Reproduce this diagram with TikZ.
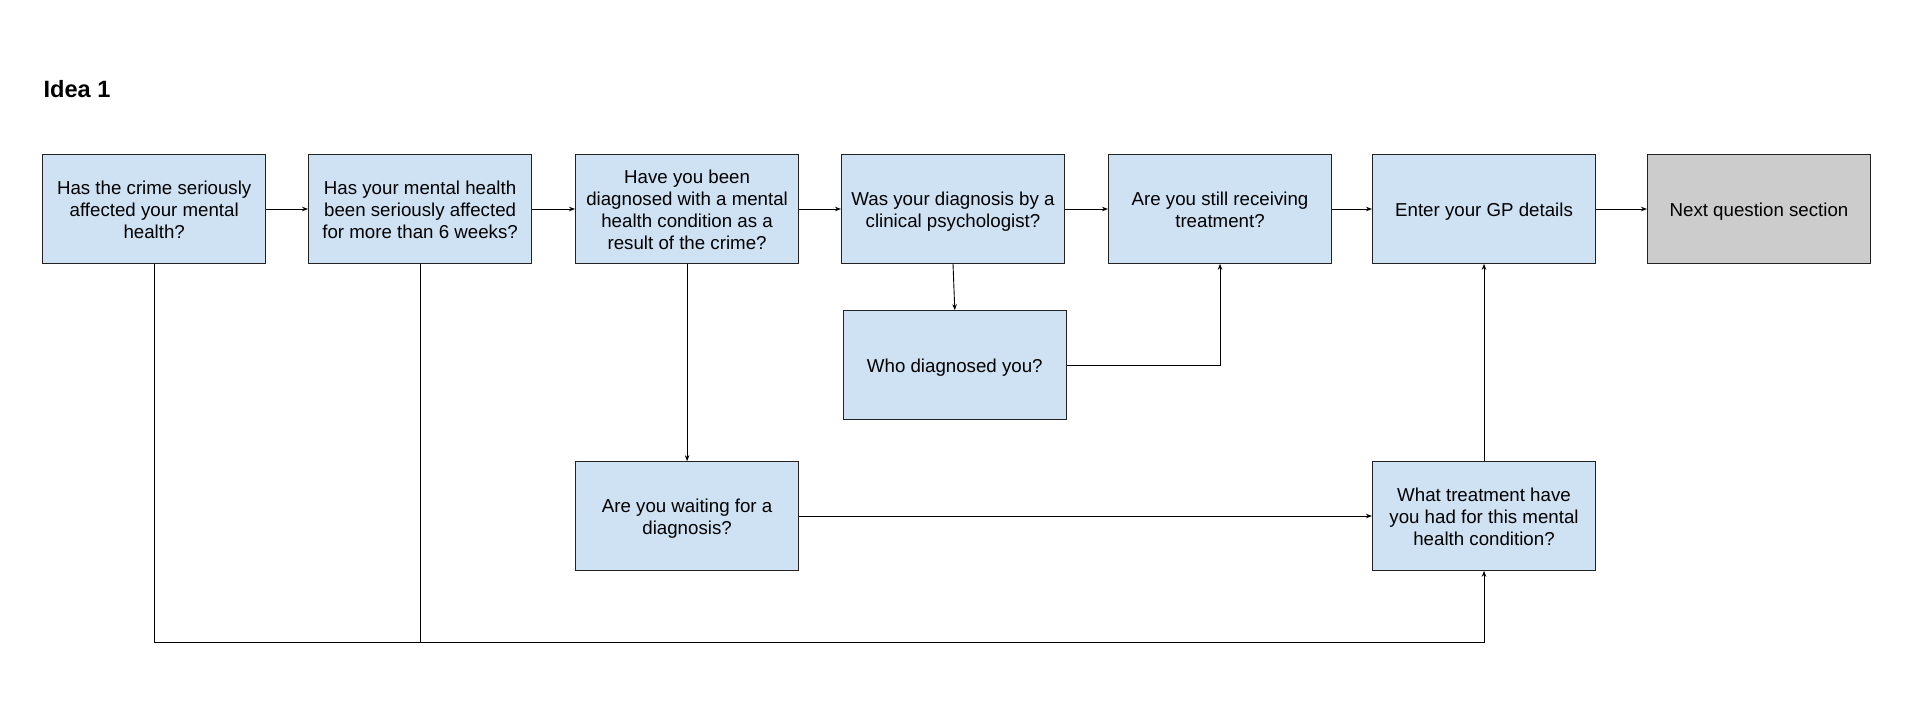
\documentclass[tikz,border=0pt]{standalone}
\usepackage{fontspec}
\setmainfont{Liberation Sans}
\usetikzlibrary{arrows.meta}
\definecolor{boxblue}{HTML}{CFE2F3}
\definecolor{boxgray}{HTML}{CCCCCC}
\definecolor{edge}{HTML}{222222}
\newcommand\boxtext[1]{\raisebox{-3.3pt}[\height][\depth]{\begin{tabular}{@{}c@{}}#1\end{tabular}}}
\begin{document}
\begin{tikzpicture}[x=1pt,y=-1pt,
  qbox/.style={draw=edge,line width=1.1pt,fill=boxblue,minimum width=223pt,minimum height=108.5pt,
    inner sep=0pt,font=\fontsize{18.7}{22}\selectfont},
  gbox/.style={qbox,fill=boxgray},
  conn/.style={draw=black,line width=0.9pt,-{Stealth[length=6pt,width=4.5pt]}},
  plain/.style={draw=black,line width=0.9pt}]
\useasboundingbox (0,0) rectangle (1912,701);
\node[anchor=west,font=\fontsize{23.6}{28}\selectfont\bfseries] (title) at (40,89) {Idea 1};
\node[qbox] (b1) at (154.2,209) {\boxtext{Has the crime seriously\\affected your mental\\health?}};
\node[qbox] (b2) at (420.1,209) {\boxtext{Has your mental health\\been seriously affected\\for more than 6 weeks?}};
\node[qbox] (b3) at (687.1,209) {\boxtext{Have you been\\diagnosed with a mental\\health condition as a\\result of the crime?}};
\node[qbox] (b4) at (953,209) {\boxtext{Was your diagnosis by a\\clinical psychologist?}};
\node[qbox] (b5) at (1220,209) {\boxtext{Are you still receiving\\treatment?}};
\node[qbox] (b6) at (1484,209) {\boxtext{Enter your GP details}};
\node[gbox] (b7) at (1759,209) {\boxtext{Next question section}};
\node[qbox] (who) at (954.8,365) {\boxtext{Who diagnosed you?}};
\node[qbox] (wait) at (687.1,516) {\boxtext{Are you waiting for a\\diagnosis?}};
\node[qbox] (what) at (1484,516) {\boxtext{What treatment have\\you had for this mental\\health condition?}};
\coordinate (c1) at (b1.south |- 0,642.6);
\coordinate (c2) at (b2.south |- 0,642.6);
\coordinate (c3) at (what.south |- 0,642.6);
\draw[conn] (b1) -- (b2);
\draw[conn] (b2) -- (b3);
\draw[conn] (b3) -- (b4);
\draw[conn] (b4) -- (b5);
\draw[conn] (b5) -- (b6);
\draw[conn] (b6) -- (b7);
\draw[conn] (b4.south) -- (who.north);
\draw[conn] (who.east) -| (b5.south);
\draw[conn] (b3.south) -- (wait.north);
\draw[conn] (wait.east) -- (what.west);
\draw[conn] (what.north) -- (b6.south);
\draw[plain] (b2.south) -- (c2);
\draw[conn] (b1.south) -- (c1) -- (c3) -- (what.south);
\end{tikzpicture}
\end{document}
